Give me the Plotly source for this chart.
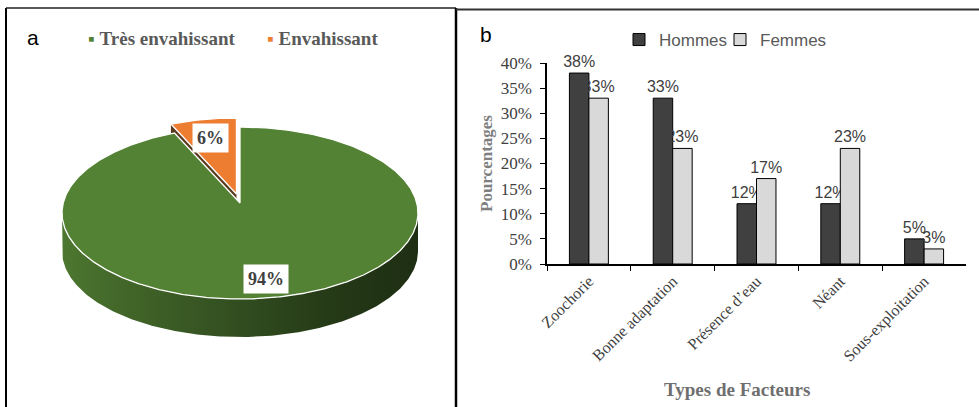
import numpy as np
import plotly.graph_objects as go

# Panel a: invasiveness classes (percent)
PIE_LABELS = ["Très envahissant", "Envahissant"]
PIE_VALUES = [94, 6]

# Panel b: factors favouring the species, by respondent gender (percent)
FACTORS = ["Zoochorie", "Bonne adaptation", "Présence d’eau", "Néant", "Sous-exploitation"]
HOMMES = [38, 33, 12, 12, 5]
FEMMES = [33, 23, 17, 23, 3]

# ---- styling -------------------------------------------------------------
W, H = 979, 407
PIE_COLORS = ["#548235", "#ED7D31"]
PULL = [0, 19]                 # radial explode distance per slice (px)
CX, CY, RX, RY = 240, 213, 178, 86
DEPTH, APEX_LIFT, LABEL_R = 38, 10, 0.78
SIDE_SHADE = [(0.0, 0.92), (0.15, 0.80), (0.45, 0.63), (0.75, 0.45), (1.0, 0.36)]
FACE_COLOR = "#5a3a1f"
SERIF = "Liberation Serif"
SANS = "Liberation Sans"


def shade(hex_color, k):
    r, g, b = (int(hex_color[i:i + 2], 16) for i in (1, 3, 5))
    return "rgb({},{},{})".format(int(r * k), int(g * k), int(b * k))


def rim(a0, a1, n, ox=0.0, oy=0.0, drop=0.0):
    th = np.radians(np.linspace(a0, a1, n))
    return CX + RX * np.sin(th) + ox, CY - RY * np.cos(th) + oy + drop


fig = go.Figure()

# ---- panel a: pseudo-3D pie built from the slice values ------------------
total = float(sum(PIE_VALUES))
bounds = np.concatenate([[0.0], np.cumsum(PIE_VALUES)]) / total * 360.0
faces, sides, tops, labels = [], [], [], []
for i, (name, val) in enumerate(zip(PIE_LABELS, PIE_VALUES)):
    a0, a1 = bounds[i], bounds[i + 1]
    mid = np.radians((a0 + a1) / 2)
    ox = PULL[i] * np.sin(mid)
    oy = -PULL[i] * (RY / RX) * np.cos(mid)
    apx, apy = CX + ox, CY - APEX_LIFT + oy

    # radial cut faces that turn towards the viewer
    for edge, normal in ((a0, a0 - 90), (a1, a1 + 90)):
        if np.cos(np.radians(normal)) < -1e-9:
            ex, ey = rim(edge, edge, 1, ox, oy)
            faces.append(go.Scatter(
                x=[apx, ex[0], ex[0], apx, apx],
                y=[apy, ey[0], ey[0] + DEPTH, apy + DEPTH, apy],
                fill="toself", fillcolor=FACE_COLOR, mode="lines",
                line=dict(width=0, color=FACE_COLOR),
                hoverinfo="skip", showlegend=False))

    # front rim of the slice
    lo, hi = max(a0, 90.0), min(a1, 270.0)
    if lo < hi:
        tx, ty = rim(lo, hi, 240, ox, oy)
        bx, by = rim(hi, lo, 240, ox, oy, DEPTH)
        sides.append(go.Scatter(
            x=np.concatenate([tx, bx, tx[:1]]), y=np.concatenate([ty, by, ty[:1]]),
            fill="toself", mode="lines", line=dict(width=0, color=shade(PIE_COLORS[i], 0.6)),
            fillgradient=dict(type="horizontal",
                              colorscale=[[p, shade(PIE_COLORS[i], k)] for p, k in SIDE_SHADE]),
            hoverinfo="skip", showlegend=False))

    # top face
    n = max(int((a1 - a0) * 2), 12)
    px, py = rim(a0, a1, n, ox, oy)
    tops.append(go.Scatter(
        x=np.concatenate([[apx], px, [apx]]), y=np.concatenate([[apy], py, [apy]]),
        fill="toself", fillcolor=PIE_COLORS[i], mode="lines",
        line=dict(color="white", width=1.3), name=name,
        hovertemplate=name + ": %{text}<extra></extra>", text=[f"{val}%"] * (n + 2),
        showlegend=False))

    labels.append(dict(
        x=CX + ox + LABEL_R * RX * np.sin(mid),
        y=CY + oy - LABEL_R * RY * np.cos(mid),
        xref="x", yref="y", text=f"<b>{val}%</b>", showarrow=False,
        bgcolor="white", borderpad=4,
        font=dict(family=SERIF, size=18, color="#404040")))

for tr in faces + sides + tops:
    fig.add_trace(tr)

# ---- panel b: grouped bars ---------------------------------------------
bar_text = dict(textposition="outside", cliponaxis=False, constraintext="none",
                textfont=dict(family=SANS, size=16, color="#404040"))
fig.add_trace(go.Bar(
    x=FACTORS, y=HOMMES, name="Hommes", xaxis="x2", yaxis="y2", legendwidth=56,
    marker=dict(color="#404040", line=dict(color="black", width=1)),
    text=[f"{v}%" for v in HOMMES], **bar_text))
fig.add_trace(go.Bar(
    x=FACTORS, y=FEMMES, name="Femmes", xaxis="x2", yaxis="y2", legendwidth=80,
    marker=dict(color="#d9d9d9", line=dict(color="black", width=1)),
    text=[f"{v}%" for v in FEMMES], **bar_text))

# pie legend drawn as coloured keys
pie_legend = []
for name, color, x0 in zip(PIE_LABELS, PIE_COLORS, (86, 265)):
    pie_legend.append(dict(
        x=x0, y=38, xref="x", yref="y", xanchor="left", showarrow=False,
        text=f'<span style="color:{color}">▪</span> <b>{name}</b>',
        font=dict(family=SERIF, size=19, color="#595959")))

frame = dict(type="line", xref="paper", yref="paper")
shapes = [
    dict(frame, x0=6 / W, x1=6 / W, y0=0, y1=1 - 8 / H, line=dict(color="black", width=2)),
    dict(frame, x0=6 / W, x1=456 / W, y0=1 - 8 / H, y1=1 - 8 / H, line=dict(color="#222", width=1.5)),
    dict(frame, x0=456 / W, x1=456 / W, y0=0, y1=1 - 8 / H, line=dict(color="black", width=2.5)),
    dict(frame, x0=456 / W, x1=1, y0=1 - 9.5 / H, y1=1 - 9.5 / H, line=dict(color="#333", width=2)),
]

fig.update_layout(
    template="none",
    width=W, height=H, autosize=False,
    margin=dict(l=0, r=0, t=0, b=0, pad=0, autoexpand=False),
    paper_bgcolor="white", plot_bgcolor="white",
    xaxis=dict(domain=[0, 456 / W], range=[0, 456], visible=False, fixedrange=True,
               automargin=False),
    yaxis=dict(domain=[0, 1], range=[H, 0], visible=False, fixedrange=True,
               automargin=False),
    xaxis2=dict(domain=[547 / W, 966 / W], anchor="y2", type="category", automargin=False,
                showline=True, linecolor="black", linewidth=1.5, showgrid=False,
                ticks="outside", ticklen=5, tickcolor="black", tickson="boundaries",
                tickangle=-45, tickfont=dict(family=SERIF, size=16, color="#404040")),
    yaxis2=dict(domain=[(H - 264) / H, (H - 63) / H], anchor="x2", range=[0, 40], dtick=5,
                automargin=False, ticklabelstandoff=5,
                ticksuffix="%", showline=True, linecolor="black", linewidth=1.5,
                showgrid=False, zeroline=False, ticks="outside", ticklen=5, tickcolor="black",
                tickfont=dict(family=SERIF, size=17, color="#404040"),
                title=dict(text="Pourcentages", standoff=4,
                           font=dict(family=SERIF, size=17, color="#7f7f7f", weight="bold"))),
    barmode="group", bargap=0.535, bargroupgap=0,
    legend=dict(orientation="h", x=619 / W, y=1 - 40 / H, xanchor="left", yanchor="middle",
                font=dict(family=SANS, size=17, color="#595959"), bgcolor="rgba(0,0,0,0)",
                itemclick=False, itemdoubleclick=False),
    shapes=shapes,
    annotations=labels + pie_legend + [
        dict(x=33 / W, y=1 - 37 / H, xref="paper", yref="paper", text="a", showarrow=False,
             xanchor="center", yanchor="middle",
             font=dict(family=SANS, size=21, color="black")),
        dict(x=486 / W, y=1 - 34 / H, xref="paper", yref="paper", text="b", showarrow=False,
             xanchor="center", yanchor="middle",
             font=dict(family=SANS, size=21, color="black")),
        dict(x=737 / W, y=1 - 389 / H, xref="paper", yref="paper", showarrow=False,
             xanchor="center", yanchor="middle",
             text="<b>Types de Facteurs</b>",
             font=dict(family=SERIF, size=19, color="#6f6f6f")),
    ],
)

# the page body keeps no default margin so the figure fills the window
fig.write_html("out.html",
               post_script="document.body.style.margin='0';"
                           "document.body.style.overflow='hidden';")
